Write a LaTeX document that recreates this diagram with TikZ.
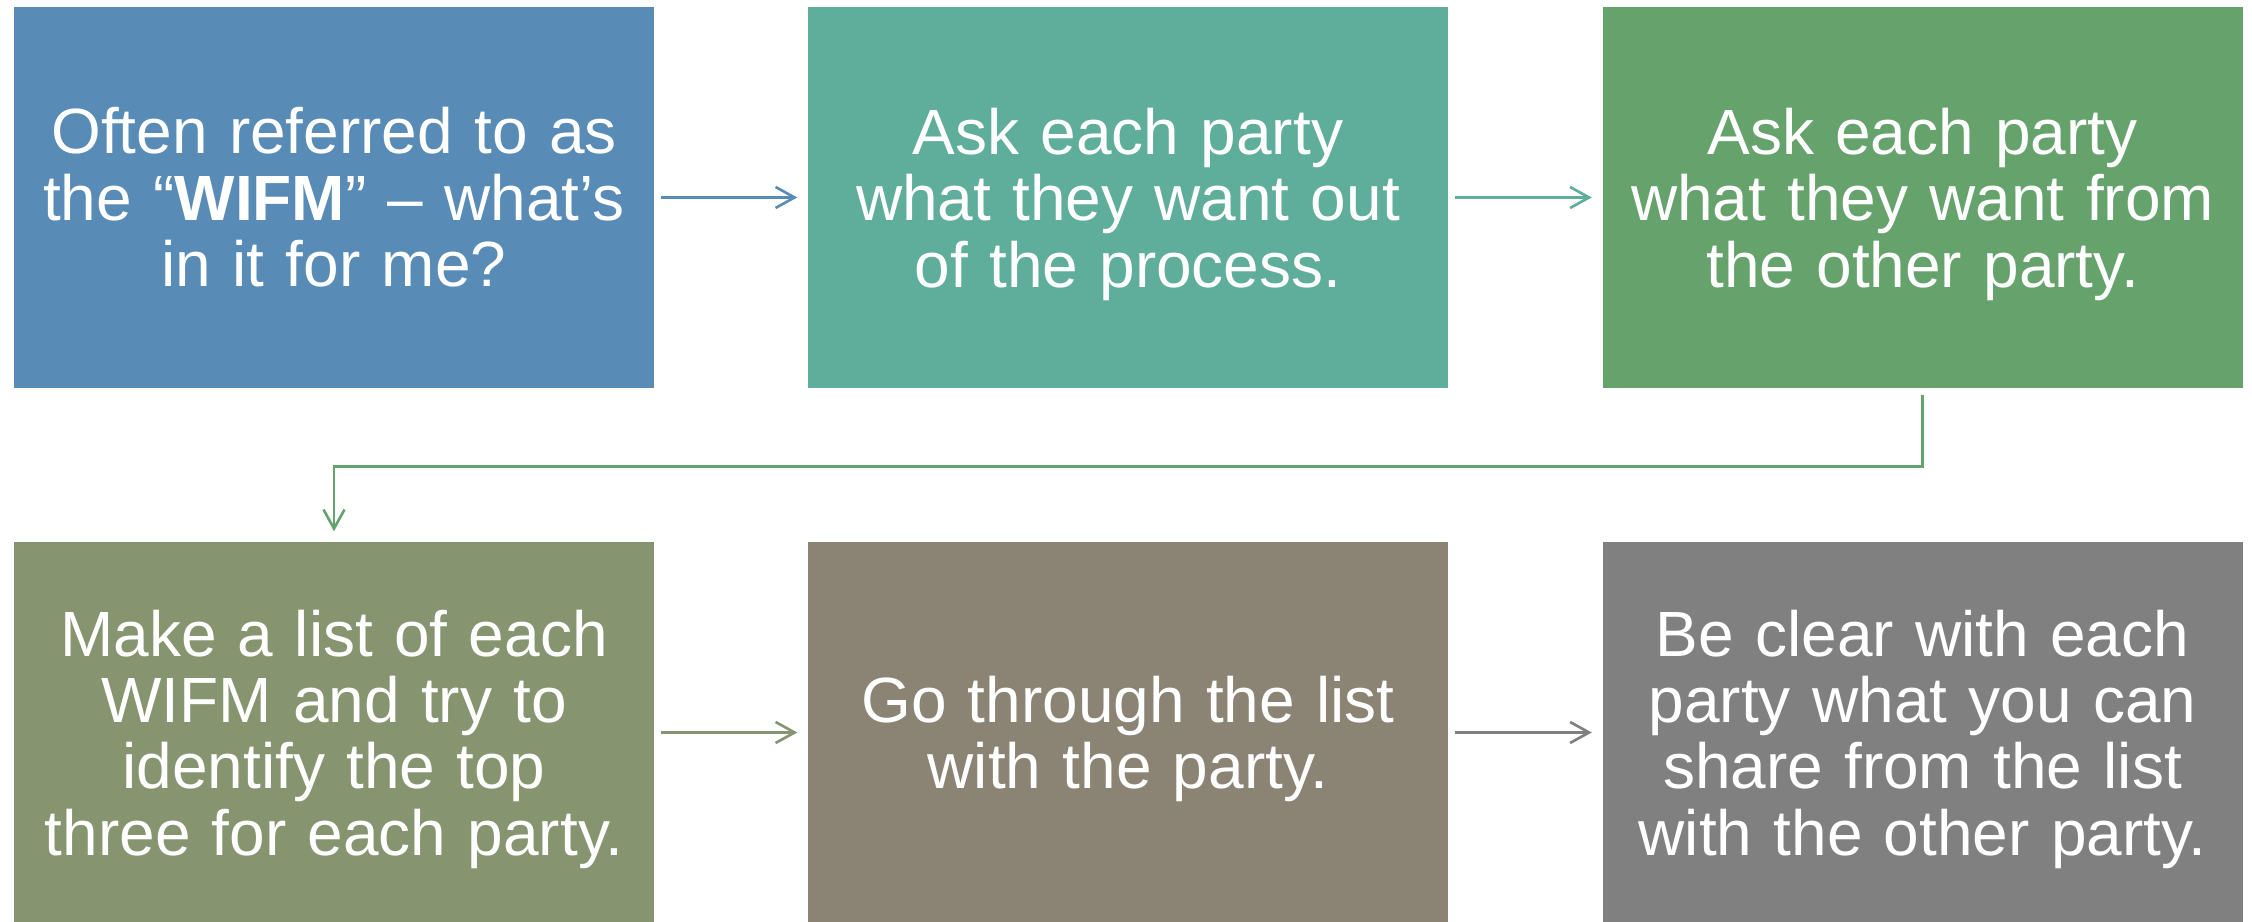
\documentclass[tikz,border=0pt]{standalone}
\usepackage{fontspec}
\setmainfont{Liberation Sans}
\usepackage{xcolor}
\usetikzlibrary{arrows.meta}

\definecolor{stepblue}{RGB}{88,139,182}
\definecolor{stepteal}{RGB}{95,173,155}
\definecolor{stepgreen}{RGB}{102,163,108}
\definecolor{stepolive}{RGB}{135,148,112}
\definecolor{steptaupe}{RGB}{139,132,116}
\definecolor{stepgray}{RGB}{128,128,128}

\begin{document}
\begin{tikzpicture}
 \useasboundingbox (0,0) rectangle (22.52,9.22);
 \begin{scope}[every node/.append style={rectangle, inner sep=0pt, minimum width=6.4cm, minimum height=3.81cm, text width=6.3cm, align=center, text=white, font=\fontsize{18.2}{18.9}\selectfont}]
    \node[fill=stepblue] (wifm) at (3.34,7.245) {Often referred to as\\the “\textbf{WIFM}” – what’s\\in it for me?};
    \node[fill=stepteal] (askout) at (11.28,7.245) {Ask each party\\what they want out\\\smash{of the process.}};
    \node[fill=stepgreen] (askfrom) at (19.225,7.245) {Ask each party\\what they want from\\\smash{the other party.}};

    \node[fill=stepolive] (list) at (3.34,1.895) {Make a list of each\\WIFM and try to\\identify the top\\\smash{three for each party.}};
    \node[fill=steptaupe] (gothrough) at (11.28,1.895) {Go through the list\\\smash{with the party.}};
    \node[fill=stepgray] (share) at (19.225,1.895) {Be clear with each\\party what you can\\share from the list\\\smash{with the other party.}};

    \coordinate (bend) at (0,4.555);
    \begin{scope}[every path/.style={-{Straight Barb[length=0.19cm, width=0.21cm]}, line width=0.75pt, shorten <=0.06cm, shorten >=0.1cm}]
       	\draw[stepblue] (wifm) -- (askout);
       	\draw[stepteal] (askout) -- (askfrom);

       	\draw[stepgreen] (askfrom.south) -- (askfrom.south |- bend) -| (list.north);

       	\draw[stepolive] (list) -- (gothrough);
       	\draw[stepgray] (gothrough) -- (share);
    \end{scope}
 \end{scope}
\end{tikzpicture}
\end{document}
